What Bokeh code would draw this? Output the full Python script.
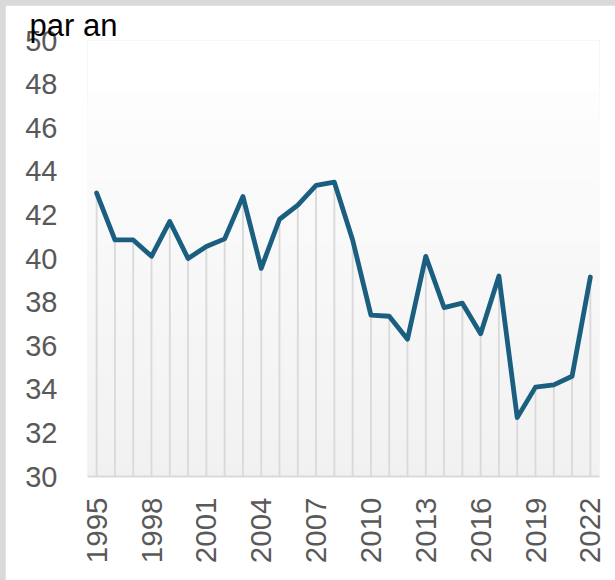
import math
from bokeh.plotting import figure
from bokeh.models import FixedTicker, BoxAnnotation, Title, Range1d, ColumnDataSource
from bokeh.embed import file_html
from bokeh.resources import INLINE

# ---- data ----
years = list(range(1995, 2023))
values = [43.0, 40.85, 40.85, 40.1, 41.7, 40.0, 40.55, 40.9, 42.85, 39.55,
          41.8, 42.45, 43.35, 43.5, 40.85, 37.4, 37.35, 36.3, 40.1, 37.75,
          37.95, 36.55, 39.2, 32.7, 34.1, 34.2, 34.6, 39.15]
x_ticks = years[::3]
y_ticks = [30, 32, 34, 36, 38, 40, 42, 44, 46, 48, 50]
title_text = "par an"

Y_MIN, Y_MAX = 30, 50
FONT = "Liberation Sans"

p = figure(width=610, height=575, output_backend="svg", toolbar_location=None,
           x_range=Range1d(1994.5, 2022.5), y_range=Range1d(Y_MIN, Y_MAX),
           min_border_left=82, min_border_right=16, min_border_top=35,
           min_border_bottom=104)
p.outline_line_color = None
p.background_fill_color = "white"
p.border_fill_color = "white"
p.xgrid.visible = False
p.ygrid.visible = False

# plot-area gradient (decorative), stacked bands
grad_top = 47.73
n = 30
for i in range(n, 0, -1):
    t = Y_MIN + (grad_top - Y_MIN) * i / n
    f = i / n
    c = int(round(241 + (253 - 241) * f))
    p.add_layout(BoxAnnotation(bottom=Y_MIN, top=t, fill_color=(c, c, c),
                               fill_alpha=1.0, line_color=None, level="underlay"))

src = ColumnDataSource(dict(x=years, y=values, y0=[Y_MIN] * len(years)))
p.segment(x0="x", y0="y0", x1="x", y1="y", source=src,
          line_color="#d9d9d9", line_width=1.8)
p.line(x="x", y="y", source=src, line_color="#1a5f80", line_width=4.8,
       line_join="round", line_cap="round")

# axes
p.yaxis.ticker = FixedTicker(ticks=y_ticks)
p.yaxis.axis_line_color = None
p.yaxis.major_tick_line_color = None
p.yaxis.minor_tick_line_color = None
p.yaxis.major_tick_out = 0
p.yaxis.major_tick_in = 0
p.yaxis.major_label_standoff = 30
p.yaxis.major_label_text_font = FONT
p.yaxis.major_label_text_font_size = "29px"
p.yaxis.major_label_text_color = "#595959"

p.xaxis.ticker = FixedTicker(ticks=x_ticks)
p.xaxis.axis_line_color = "#d9d9d9"
p.xaxis.axis_line_width = 2
p.xaxis.major_tick_line_color = None
p.xaxis.minor_tick_line_color = None
p.xaxis.major_tick_out = 0
p.xaxis.major_tick_in = 0
p.xaxis.major_label_orientation = math.pi / 2
p.xaxis.major_label_standoff = 21
p.xaxis.major_label_text_font = FONT
p.xaxis.major_label_text_font_size = "29.5px"
p.xaxis.major_label_text_color = "#595959"

p.add_layout(Title(text=title_text, align="left", offset=-58, standoff=-4,
                   text_line_height=0.8,
                   text_font=FONT, text_font_size="31px", text_font_style="normal",
                   text_color="black"), "above")

TEMPLATE = """{% block preamble %}<style>html,body{background:#d9d9d9 !important;} body{margin:5px 0 0 5px !important;padding:0 !important;overflow:hidden !important;}</style>{% endblock %}"""

open("out.html", "w").write(file_html(p, INLINE, template=TEMPLATE))
